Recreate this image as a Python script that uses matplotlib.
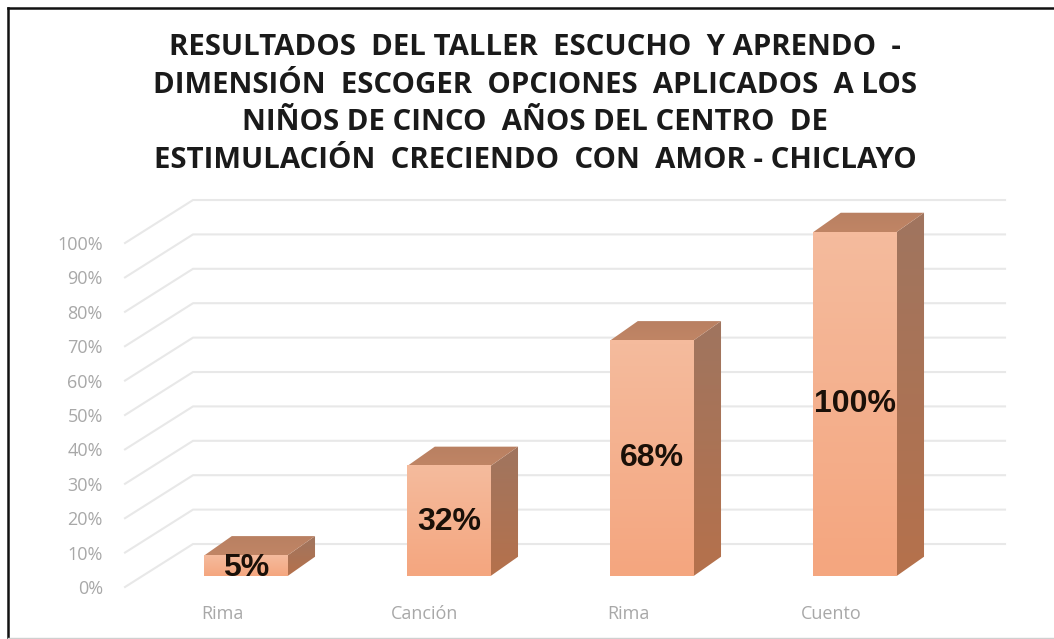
import numpy as np
import matplotlib
matplotlib.use("Agg")
import matplotlib.pyplot as plt
from matplotlib.colors import LinearSegmentedColormap
from matplotlib.lines import Line2D
from matplotlib.patches import Polygon
from matplotlib.transforms import ScaledTranslation

# datos
categorias = ["Rima", "Canción", "Rima", "Cuento"]
alturas = [6, 32, 68.5, 100]
etiquetas = ["5%", "32%", "68%", "100%"]
pos_etiqueta = [2.3, 15.7, 34.3, 50]
ticks_y = [0, 10, 20, 30, 40, 50, 60, 70, 80, 90, 100]

titulo = ["RESULTADOS  DEL TALLER  ESCUCHO  Y APRENDO  -",
          "DIMENSIÓN  ESCOGER  OPCIONES  APLICADOS  A LOS",
          "NIÑOS DE CINCO  AÑOS DEL CENTRO  DE",
          "ESTIMULACIÓN  CRECIENDO  CON  AMOR - CHICLAYO"]

W, H = 1054, 639
ancho = 0.41
prof_x, prof_y = 0.135, 5.6     # profundidad de la barra
pared_x, pared_y = 0.335, 9.3   # desplazamiento de la pared del fondo

fig = plt.figure(figsize=(W / 100, H / 100), dpi=100, facecolor="white")
# el plano frontal va de x=144.5 a 956.5 px, y de y=576 (0%) a y=232 (100%)
ax = fig.add_axes([144.5 / W, 1 - 576 / H, 812 / W, 344 / H])
ax.patch.set_visible(False)
for s in ax.spines.values():
    s.set_visible(False)

# marco de la imagen
fig.add_artist(Line2D([7.5 / W, 7.5 / W], [0, 1 - 7.5 / H], color="#111111", lw=1.8))
fig.add_artist(Line2D([7.5 / W, 1], [1 - 7.5 / H, 1 - 7.5 / H], color="#111111", lw=1.8))
fig.add_artist(Line2D([7.5 / W, 1], [1 / H, 1 / H], color="#d0d0d0", lw=1))

# lineas de la pared y del piso
x_ini = -0.596
x_fin = 3.739
for t in ticks_y:
    ax.plot([x_ini, x_ini + pared_x, x_fin], [t - 3.2, t + pared_y, t + pared_y],
            color="#e8e8e8", lw=1.5, clip_on=False, zorder=1, solid_joinstyle="round")

frente = LinearSegmentedColormap.from_list("frente", ["#f4a67f", "#f5bb9d"])
lado = LinearSegmentedColormap.from_list("lado", ["#b5714c", "#a0755f"])
tapa = LinearSegmentedColormap.from_list("tapa", ["#c08565", "#b98062"])
grad = np.linspace(0, 1, 64).reshape(-1, 1)


def cara(x0, x1, y0, y1, cmap, puntos=None):
    im = ax.imshow(grad, cmap=cmap, origin="lower", aspect="auto",
                   extent=(x0, x1, y0, y1), zorder=3)
    # con clip box None la imagen se recorta a los ejes y se pierde la tapa
    im.set_clip_box(fig.bbox)
    if puntos is not None:
        im.set_clip_path(Polygon(puntos, transform=ax.transData))
        im.set_clip_box(fig.bbox)


for i, h in enumerate(alturas):
    iz, de = i - ancho / 2, i + ancho / 2
    cara(de, de + prof_x, 0, h + prof_y, lado,
         [(de, 0), (de + prof_x, prof_y), (de + prof_x, h + prof_y), (de, h)])
    cara(iz, de + prof_x, h, h + prof_y, tapa,
         [(iz, h), (de, h), (de + prof_x, h + prof_y), (iz + prof_x, h + prof_y)])
    cara(iz, de, 0, h, frente)

ax.set_xlim(-0.5, 3.5)
ax.set_ylim(0, 100)

# etiquetas de datos (el 5% queda cortado abajo, igual que en la imagen)
for i, e in enumerate(etiquetas):
    ax.text(i, pos_etiqueta[i], e, ha="center", va="center", fontsize=23,
            fontweight="bold", family="Liberation Sans", color="#1a1008", zorder=5, clip_on=True)

ax.set_xticks(range(len(categorias)))
ax.set_xticklabels(categorias)
ax.set_yticks(ticks_y)
ax.set_yticklabels([f"{t}%" for t in ticks_y])
ax.tick_params(axis="both", length=0, colors="#a8a8a8", labelsize=13, labelfontfamily="Open Sans")
ax.tick_params(axis="x", pad=21)
ax.tick_params(axis="y", pad=30)
# las etiquetas estan corridas respecto a las marcas por la perspectiva
for lab in ax.get_yticklabels():
    lab.set_transform(lab.get_transform() + ScaledTranslation(0, -11 / 100, fig.dpi_scale_trans))
for lab in ax.get_xticklabels():
    lab.set_transform(lab.get_transform() + ScaledTranslation(-24 / 100, 0, fig.dpi_scale_trans))

for i, linea in enumerate(titulo):
    fig.text(535 / W, 1 - (47.5 + 37.7 * i) / H, linea, ha="center", va="center",
             fontsize=21.2, fontweight="bold", family="Open Sans", color="#1a1a1a")

fig.savefig("out.png", dpi=100)
